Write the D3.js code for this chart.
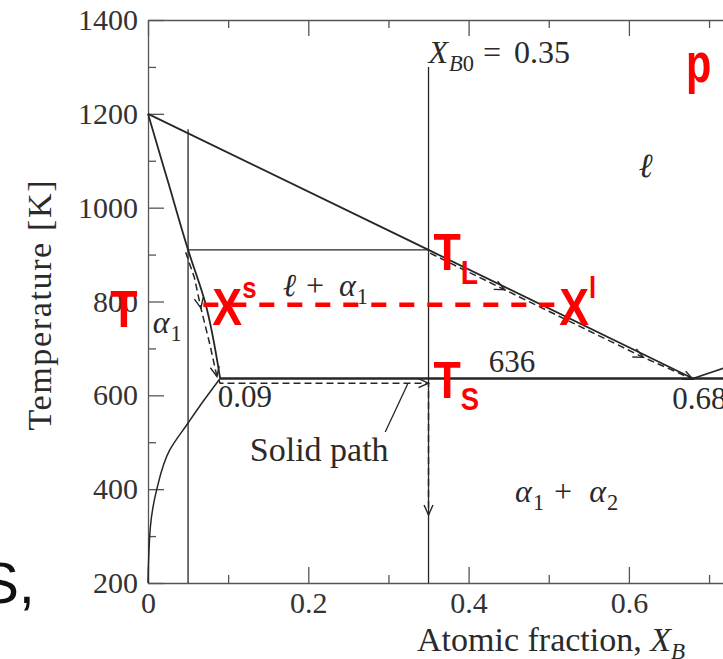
<!DOCTYPE html>
<html>
<head>
<meta charset="utf-8">
<script src="https://cdn.jsdelivr.net/npm/d3@7"></script>
<style>
  body { margin: 0; background: #fff; }
  svg { display: block; }
  .axis .tick text { font-family: "Liberation Serif", serif; font-size: 30px; fill: #333; }
  .axis path, .axis line { stroke: #555; stroke-width: 1.3; }
  .serif { font-family: "Liberation Serif", "DejaVu Serif", serif; fill: #2a2a2a; }
  .red { font-family: "Liberation Sans", Arial, sans-serif; font-weight: bold; fill: #ff0000; }
</style>
</head>
<body>
<svg id="chart"></svg>
<script>
const width = 723;
const height = 659;

// axes
const xTicks = [0, 0.2, 0.4, 0.6, 0.8, 1];
const xMinorTicks = [0.1, 0.3, 0.5, 0.7, 0.9];
const yTicks = [200, 400, 600, 800, 1000, 1200, 1400];
const yMinorTicks = [300, 500, 700, 900, 1100, 1300];

// phase boundaries (X_B, T in K)
const liquidusX = [0, 0.35, 0.68];
const liquidusT = [1200, 910, 636];
const liquidus2X = [0.68, 1.0];
const liquidus2T = [636, 820];
const solidusX = [0, 0.025, 0.05, 0.071, 0.09];
const solidusT = [1200, 1055, 910, 800, 636];
const solvusX = [0.09, 0.07, 0.05, 0.027, 0.011, 0.003, 0];
const solvusT = [636, 590, 541, 483, 400, 320, 200];
const eutecticX = [0.09, 0.97];
const eutecticT = 636;

// alloy lines
const xB0 = 0.35;
const xB0T = [1300, 200];
const xAlloy = 0.05;
const xAlloyT = [1167, 200];
const tieX = [0.05, 0.35];
const tieT = 910;

// cooling paths
const solidPathX = [0.047, 0.058, 0.066, 0.077, 0.086, 0.09, 0.35, 0.35];
const solidPathT = [905, 850, 786, 710, 640, 626, 626, 345];
const solidArrows = [2, 4, 6, 7];
const liquidPathX = [0.352, 0.445, 0.618, 0.68];
const liquidPathT = [903, 825, 681, 634];
const liquidArrows = [1, 2, 3];

// red tie line at T
const redT = 793;
const redX = [0.069, 0.508];

const x = d3.scaleLinear().domain([0, 1]).range([148, 949.5]);
const y = d3.scaleLinear().domain([200, 1400]).range([583, 20]);

const svg = d3.select("#chart")
  .attr("width", width)
  .attr("height", height);

const fmtX = d => d === 0 ? "0" : d3.format(".1f")(d);

// frame + ticks
svg.append("g").attr("class", "axis")
  .attr("transform", `translate(0,${y(200)})`)
  .call(d3.axisBottom(x).tickValues(xTicks).tickSizeInner(-16).tickSizeOuter(0).tickPadding(9).tickFormat(fmtX));
svg.append("g").attr("class", "axis")
  .attr("transform", `translate(0,${y(200)})`)
  .call(d3.axisBottom(x).tickValues(xMinorTicks).tickSizeInner(-8).tickSizeOuter(0).tickFormat(""))
  .call(g => g.select(".domain").remove());
svg.append("g").attr("class", "axis")
  .attr("transform", `translate(0,${y(1400)})`)
  .call(d3.axisTop(x).tickValues(xTicks).tickSizeInner(-16).tickSizeOuter(0).tickFormat(""));
svg.append("g").attr("class", "axis")
  .attr("transform", `translate(0,${y(1400)})`)
  .call(d3.axisTop(x).tickValues(xMinorTicks).tickSizeInner(-8).tickSizeOuter(0).tickFormat(""))
  .call(g => g.select(".domain").remove());
svg.append("g").attr("class", "axis")
  .attr("transform", `translate(${x(0)},0)`)
  .call(d3.axisLeft(y).tickValues(yTicks).tickSizeInner(-16).tickSizeOuter(0).tickPadding(10).tickFormat(d3.format("d")));
svg.append("g").attr("class", "axis")
  .attr("transform", `translate(${x(0)},0)`)
  .call(d3.axisLeft(y).tickValues(yMinorTicks).tickSizeInner(-8).tickSizeOuter(0).tickFormat(""))
  .call(g => g.select(".domain").remove());
svg.append("g").attr("class", "axis")
  .attr("transform", `translate(${x(1)},0)`)
  .call(d3.axisRight(y).tickValues(yTicks).tickSizeInner(-16).tickSizeOuter(0).tickFormat(""));

// axis titles
svg.append("text").attr("class", "serif")
  .attr("transform", `translate(51,${(y(1400) + y(200)) / 2 + 4}) rotate(-90)`)
  .attr("text-anchor", "middle")
  .attr("font-size", 34)
  .attr("textLength", 250)
  .attr("lengthAdjust", "spacing")
  .text("Temperature [K]");

const xl = svg.append("text").attr("class", "serif")
  .attr("x", 417).attr("y", 651).attr("font-size", 34);
xl.append("tspan").text("Atomic fraction, ");
xl.append("tspan").attr("font-style", "italic").text("X");
xl.append("tspan").attr("font-style", "italic").attr("font-size", 23).attr("dy", 8).text("B");

const pts = (xs, ts) => xs.map((v, i) => [x(v), y(ts[i])]);
const line = d3.line();
const smooth = d3.line().curve(d3.curveMonotoneY);

const ink = "#262626";

// thin alloy lines
svg.append("path").attr("d", line(pts([xB0, xB0], xB0T)))
  .attr("fill", "none").attr("stroke", ink).attr("stroke-width", 1.3);
svg.append("path").attr("d", line(pts([xAlloy, xAlloy], xAlloyT)))
  .attr("fill", "none").attr("stroke", ink).attr("stroke-width", 1.3);
svg.append("path").attr("d", line(pts(tieX, [tieT, tieT])))
  .attr("fill", "none").attr("stroke", ink).attr("stroke-width", 1.3);

// phase boundaries
svg.append("path").attr("d", line(pts(liquidusX, liquidusT)))
  .attr("fill", "none").attr("stroke", ink).attr("stroke-width", 1.8);
svg.append("path").attr("d", line(pts(liquidus2X, liquidus2T)))
  .attr("fill", "none").attr("stroke", ink).attr("stroke-width", 1.6);
svg.append("path").attr("d", smooth(pts(solidusX, solidusT)))
  .attr("fill", "none").attr("stroke", ink).attr("stroke-width", 1.8);
svg.append("path").attr("d", smooth(pts(solvusX, solvusT)))
  .attr("fill", "none").attr("stroke", ink).attr("stroke-width", 1.5);
svg.append("path").attr("d", line(pts(eutecticX, [eutecticT, eutecticT])))
  .attr("fill", "none").attr("stroke", ink).attr("stroke-width", 2.6);

// cooling paths with open arrow heads
function chevron(p, q, size = 11, spread = 0.42) {
  const a = Math.atan2(q[1] - p[1], q[0] - p[0]);
  const b1 = a + Math.PI - spread, b2 = a + Math.PI + spread;
  return `M${q[0] + size * Math.cos(b1)},${q[1] + size * Math.sin(b1)}L${q[0]},${q[1]}L${q[0] + size * Math.cos(b2)},${q[1] + size * Math.sin(b2)}`;
}

function drawPath(xs, ts, arrows) {
  const p = pts(xs, ts);
  svg.append("path").attr("d", line(p))
    .attr("fill", "none").attr("stroke", ink).attr("stroke-width", 1.5)
    .attr("stroke-dasharray", "7,4");
  svg.selectAll(null)
    .data(arrows)
    .enter()
    .append("path")
    .attr("d", i => chevron(p[i - 1], p[i]))
    .attr("fill", "none").attr("stroke", ink).attr("stroke-width", 1.4);
}
drawPath(solidPathX, solidPathT, solidArrows);
drawPath(liquidPathX, liquidPathT, liquidArrows);

// "Solid path" leader
svg.append("path").attr("d", line(pts([0.296, 0.324], [522, 624])))
  .attr("fill", "none").attr("stroke", ink).attr("stroke-width", 1.3);

// red dashed T line
svg.append("path").attr("d", line(pts(redX, [redT, redT])))
  .attr("fill", "none").attr("stroke", "#ff0000").attr("stroke-width", 4.5)
  .attr("stroke-dasharray", "15,13");

// math-style labels: parts = [text, italic?, level, dx] (level 1 = subscript)
function mathLabel(X, T, parts, size = 32) {
  const t = svg.append("text").attr("class", "serif")
    .attr("x", x(X)).attr("y", y(T)).attr("font-size", size);
  let level = 0;
  parts.forEach(([s, it, lv, dx]) => {
    const shift = (lv - level) * 8;
    level = lv;
    t.append("tspan")
      .attr("font-style", it ? "italic" : "normal")
      .attr("font-size", lv ? size * 0.7 : size)
      .attr("dx", dx || 0)
      .attr("dy", shift)
      .text(s);
  });
  return t;
}

mathLabel(0.35, 1308, [["X", 1, 0], ["B", 1, 1, 1], ["0", 0, 1], ["=", 0, 0, 9], ["0.35", 0, 0, 13]]);
mathLabel(0.612, 1065, [["ℓ", 1, 0]], 34);
mathLabel(0.168, 812, [["ℓ", 1, 0], ["+", 0, 0, 10], ["α", 1, 0, 15], ["1", 0, 1, 1]]);
mathLabel(0.006, 733, [["α", 1, 0], ["1", 0, 1, 1]]);
mathLabel(0.458, 373, [["α", 1, 0], ["1", 0, 1, 1], ["+", 0, 0, 10], ["α", 1, 0, 17], ["2", 0, 1, 1]]);
mathLabel(0.425, 650, [["636", 0, 0]], 31);
mathLabel(0.087, 575, [["0.09", 0, 0]], 31);
mathLabel(0.654, 571, [["0.68", 0, 0]], 31);
mathLabel(0.127, 460, [["Solid path", 0, 0]], 34);

// red overlay labels, squeezed horizontally like the original narrow face
function redLabel(X, T, dx, dy, parts, size = 52, sx = 0.86) {
  const g = svg.append("g")
    .attr("transform", `translate(${x(X) + dx},${y(T) + dy}) scale(${sx},1)`);
  const t = g.append("text").attr("class", "red").attr("font-size", size);
  parts.forEach(([s, fs, shift]) => {
    t.append("tspan").attr("font-size", fs || size).attr("dy", shift || 0).text(s);
  });
}

redLabel(0.35, 910, 5, 20, [["T"], ["L", 33, 14]]);
redLabel(0.35, 636, 5, 20, [["T"], ["S", 32, 12]]);
redLabel(redX[0], redT, 9, 20, [["X"], ["s", 30, -27]]);
redLabel(redX[1], redT, 4, 20, [["X"], ["l", 30, -27]]);
redLabel(-0.047, 746, 0, 0, [["T"]]);
redLabel(0.6725, 1268, -1, 0, [["p"]], 56, 0.74);

// stray slide text at left
svg.append("text")
  .attr("x", x(-0.141)).attr("y", y(157))
  .attr("text-anchor", "end")
  .attr("font-family", "Liberation Sans, Arial, sans-serif")
  .attr("font-size", 58)
  .attr("fill", "#111")
  .text("S,");
</script>
</body>
</html>
